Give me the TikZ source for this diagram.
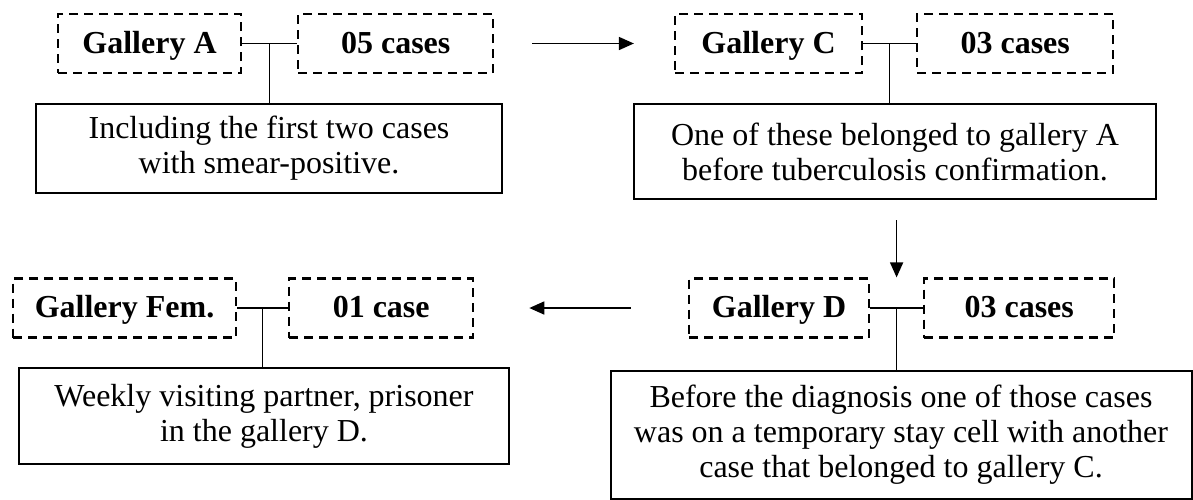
\documentclass[tikz,border=0pt]{standalone}
\usepackage{fontspec}
\setmainfont{Liberation Serif}
\usetikzlibrary{arrows.meta, positioning, calc}

\begin{document}
\begin{tikzpicture}[
    x=0.5pt, y=-0.5pt,
    node distance=26.5pt,
gal/.style  = {draw, dash pattern=on 4.5pt off 3pt, line width=1.1pt,
               minimum height=29.5pt, inner sep=0pt,
               text height=12pt, text depth=2.5pt,
               font=\fontsize{16}{17.5}\selectfont\bfseries},
note/.style = {draw, line width=1pt, anchor=north west, align=center, inner sep=0pt,
               execute at begin node=\rule{0pt}{14.5pt},
               font=\fontsize{16}{17.5}\selectfont},
link/.style = {line width=0.8pt},
flow/.style = {line width=0.8pt, -{Triangle[length=7.5pt,width=6.5pt]}}
                        ]
\useasboundingbox (0,0) rectangle (1193,499);
% top row
\node (gA) [gal, minimum width=91.5pt] at (149.5,43.5) {Gallery A};
\node (cA) [gal, minimum width=97.5pt, right=27.5pt of gA] {05 cases};
\node (gC) [gal, minimum width=93.5pt] at (768.5,43.5) {Gallery C};
\node (cC) [gal, minimum width=98pt, right=of gC] {03 cases};
% bottom row
\node (gF) [gal, minimum width=111.5pt] at (124.5,308) {Gallery Fem.};
\node (cF) [gal, minimum width=92pt, right=25.5pt of gF] {01 case};
\node (gD) [gal, minimum width=90pt] at (779,308) {Gallery D};
\node (cD) [gal, minimum width=95pt, right=of gD] {03 cases};
% notes
\node (tA) [note, minimum width=233pt, minimum height=44.5pt] at (35,103)
    {Including the first two cases\\ with smear-positive.};
\node (tC) [note, minimum width=261pt, minimum height=47.5pt] at (633,103)
    {One of these belonged to gallery A\\ before tuberculosis confirmation.};
\node (tF) [note, minimum width=245pt, minimum height=48pt] at (18,367)
    {Weekly visiting partner, prisoner\\ in the gallery D.};
\node (tD) [note, minimum width=290.5pt, minimum height=64pt] at (609.5,370)
    {Before the diagnosis one of those cases\\ was on a temporary stay cell with another\\
     case that belonged to gallery C.};
% junctions
\coordinate (jA) at ($(gA.east)!.5!(cA.west)$);
\coordinate (jC) at ($(gC.east)!.5!(cC.west)$);
\coordinate (jF) at ($(gF.east)!.5!(cF.west)$);
\coordinate (jD) at ($(gD.east)!.5!(cD.west)$);
\draw[link] (gA.east) -- (cA.west)  (jA) -- (jA |- tA.north);
\draw[link] (gC.east) -- (cC.west)  (jC) -- (jC |- tC.north);
\draw[link] (gF.east) -- (cF.west)  (jF) -- (jF |- tF.north);
\draw[link] (gD.east) -- (cD.west)  (jD) -- (jD |- tD.north);
% flow
\draw[flow] ([xshift=19pt] cA.east) -- ([xshift=-20pt] gC.west);
\draw[flow] ([yshift=-10pt] tC.south -| jD) -- (jD |- gD.north);
\draw[flow] ([xshift=-28.5pt] gD.west) -- ([xshift=27.5pt] cF.east);
\end{tikzpicture}
\end{document}
